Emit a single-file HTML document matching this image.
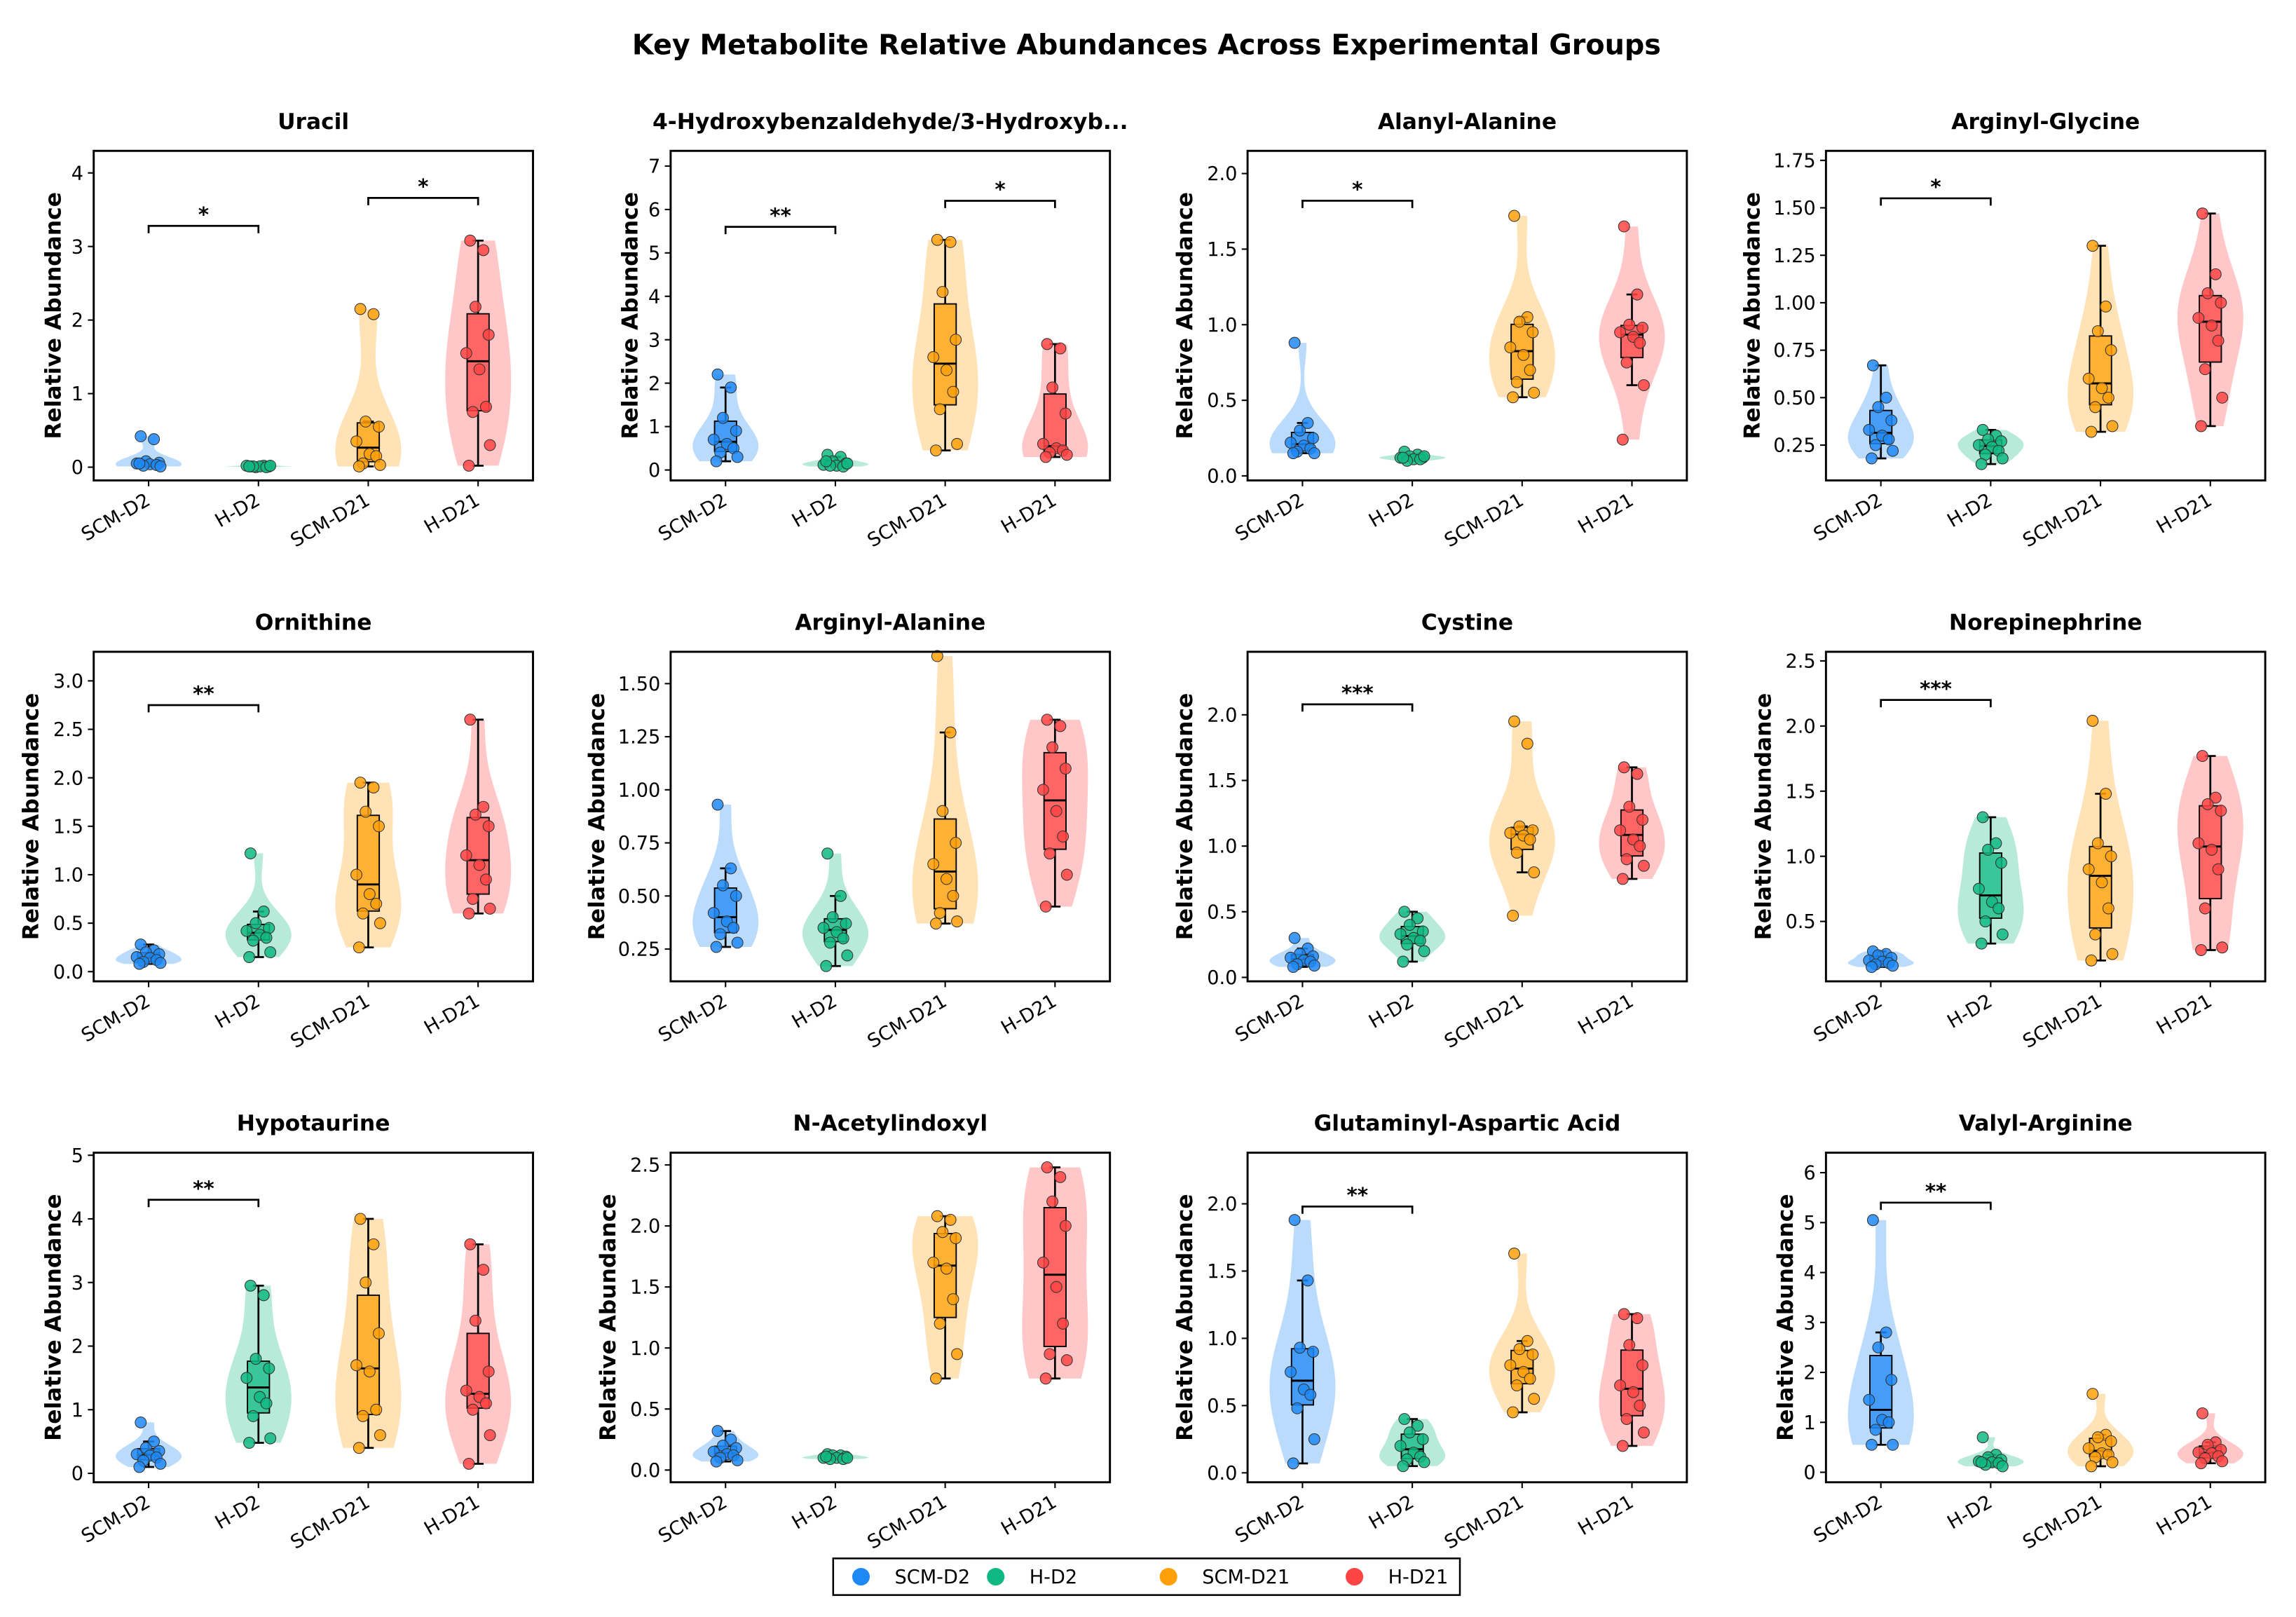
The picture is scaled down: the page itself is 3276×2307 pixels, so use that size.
<!DOCTYPE html>
<html><head><meta charset="utf-8"><style>
html,body{margin:0;padding:0;background:#fff;}
svg{display:block;font-family:"DejaVu Sans","Liberation Sans",sans-serif;}
</style></head><body>
<svg id="fig" width="3276" height="2307" viewBox="0 0 1568 1104" preserveAspectRatio="none" xmlns="http://www.w3.org/2000/svg">
<rect x="0" y="0" width="1568" height="1104" fill="#fff"/>
<text x="783" y="37" text-anchor="middle" font-size="19" font-weight="bold">Key Metabolite Relative Abundances Across Experimental Groups</text>
<g id="panels"></g>
<g>
<rect x="569" y="1064" width="428" height="25" fill="#fff" stroke="#000" stroke-width="1.2"/>
<circle cx="588" cy="1076.5" r="6" fill="#1e88f5"/><text x="611" y="1081" font-size="13">SCM-D2</text>
<circle cx="680" cy="1076.5" r="6" fill="#10b981"/><text x="703" y="1081" font-size="13">H-D2</text>
<circle cx="798" cy="1076.5" r="6" fill="#ffa00a"/><text x="821" y="1081" font-size="13">SCM-D21</text>
<circle cx="925" cy="1076.5" r="6" fill="#ff4444"/><text x="948" y="1081" font-size="13">H-D21</text>
</g>
</svg>
<script>
const groups = ["SCM-D2","H-D2","SCM-D21","H-D21"];
const colors = ["#1e88f5","#10b981","#ffa00a","#ff4444"];
const titles = ["Uracil","4-Hydroxybenzaldehyde/3-Hydroxyb...","Alanyl-Alanine","Arginyl-Glycine","Ornithine","Arginyl-Alanine","Cystine","Norepinephrine","Hypotaurine","N-Acetylindoxyl","Glutaminyl-Aspartic Acid","Valyl-Arginine"];
const yMins = [-0.18,-0.24,-0.03,0.064,-0.1,0.098,-0.03,0.04,-0.14,-0.1,-0.07,-0.2];
const yMaxs = [4.3,7.35,2.15,1.80,3.3,1.65,2.48,2.57,5.04,2.6,2.38,6.4];
const yTicks = [
 [0,1,2,3,4],[0,1,2,3,4,5,6,7],[0,0.5,1,1.5,2],[0.25,0.5,0.75,1,1.25,1.5,1.75],
 [0,0.5,1,1.5,2,2.5,3],[0.25,0.5,0.75,1,1.25,1.5],[0,0.5,1,1.5,2],[0.5,1,1.5,2,2.5],
 [0,1,2,3,4,5],[0,0.5,1,1.5,2,2.5],[0,0.5,1,1.5,2],[0,1,2,3,4,5,6]];
const tickFmt = [0,0,1,2,1,2,1,1,0,1,1,0];
const values = [
 [[0.42,0.38,0.08,0.06,0.05,0.04,0.03,0.02,0.01,0.05],[0.01,0.02,0.0,0.01,0.02,0.01,0.0,0.01,0.02,0.01],[2.15,2.08,0.62,0.55,0.35,0.18,0.15,0.05,0.03,0.01],[3.08,2.95,2.18,1.8,1.55,1.33,0.82,0.75,0.3,0.02]],
 [[2.2,1.9,1.2,0.9,0.7,0.6,0.5,0.4,0.3,0.2],[0.35,0.3,0.2,0.15,0.12,0.1,0.08,0.1,0.15,0.2],[5.3,5.25,4.1,3.0,2.6,2.3,1.8,1.4,0.6,0.45],[2.9,2.8,1.9,1.3,0.6,0.5,0.45,0.4,0.35,0.3]],
 [[0.88,0.35,0.3,0.25,0.22,0.2,0.18,0.16,0.15,0.15],[0.16,0.14,0.13,0.12,0.12,0.11,0.11,0.1,0.13,0.12],[1.72,1.05,1.02,0.95,0.85,0.8,0.7,0.62,0.55,0.52],[1.65,1.2,1.0,0.98,0.95,0.92,0.88,0.75,0.6,0.24]],
 [[0.67,0.5,0.45,0.38,0.33,0.3,0.28,0.25,0.22,0.18],[0.33,0.3,0.28,0.27,0.25,0.24,0.22,0.2,0.18,0.15],[1.3,0.98,0.85,0.75,0.6,0.55,0.5,0.45,0.35,0.32],[1.47,1.15,1.05,1.0,0.92,0.88,0.8,0.65,0.5,0.35]],
 [[0.28,0.22,0.2,0.18,0.15,0.14,0.12,0.1,0.09,0.08],[1.22,0.62,0.5,0.45,0.42,0.38,0.35,0.32,0.2,0.15],[1.95,1.9,1.65,1.5,1.0,0.8,0.7,0.6,0.5,0.25],[2.6,1.7,1.62,1.5,1.2,1.1,0.95,0.75,0.65,0.6]],
 [[0.93,0.63,0.55,0.5,0.42,0.38,0.35,0.32,0.28,0.26],[0.7,0.5,0.4,0.37,0.35,0.33,0.3,0.28,0.22,0.17],[1.63,1.27,0.9,0.75,0.65,0.58,0.5,0.42,0.38,0.37],[1.33,1.3,1.2,1.1,1.0,0.9,0.78,0.7,0.6,0.45]],
 [[0.3,0.22,0.18,0.16,0.15,0.13,0.12,0.1,0.09,0.08],[0.5,0.45,0.4,0.35,0.33,0.3,0.28,0.25,0.2,0.12],[1.95,1.78,1.15,1.12,1.1,1.08,1.05,0.95,0.8,0.47],[1.6,1.55,1.3,1.2,1.12,1.05,1.0,0.9,0.85,0.75]],
 [[0.27,0.25,0.24,0.22,0.2,0.19,0.18,0.17,0.16,0.15],[1.3,1.1,1.05,0.95,0.75,0.65,0.6,0.5,0.4,0.33],[2.04,1.48,1.1,1.0,0.9,0.8,0.6,0.4,0.25,0.2],[1.77,1.45,1.4,1.35,1.1,1.05,0.9,0.6,0.3,0.28]],
 [[0.8,0.5,0.4,0.35,0.3,0.28,0.25,0.2,0.15,0.1],[2.95,2.8,1.8,1.65,1.5,1.2,1.1,0.9,0.55,0.48],[4.0,3.6,3.0,2.2,1.7,1.6,1.0,0.9,0.6,0.4],[3.6,3.2,2.4,1.6,1.3,1.2,1.1,1.0,0.6,0.15]],
 [[0.32,0.25,0.2,0.18,0.15,0.13,0.12,0.1,0.08,0.07],[0.13,0.12,0.12,0.11,0.1,0.1,0.09,0.09,0.1,0.11],[2.08,2.05,1.95,1.9,1.7,1.65,1.4,1.2,0.95,0.75],[2.48,2.4,2.2,2.0,1.7,1.5,1.2,0.95,0.9,0.75]],
 [[1.88,1.43,0.93,0.9,0.75,0.62,0.58,0.48,0.25,0.07],[0.4,0.35,0.3,0.25,0.2,0.15,0.12,0.1,0.08,0.05],[1.63,0.98,0.92,0.88,0.8,0.75,0.7,0.65,0.55,0.45],[1.18,1.15,0.95,0.8,0.65,0.6,0.5,0.4,0.3,0.2]],
 [[5.05,2.8,2.5,1.85,1.45,1.05,1.0,0.85,0.55,0.55],[0.7,0.35,0.3,0.25,0.22,0.2,0.18,0.15,0.12,0.2],[1.57,0.75,0.7,0.62,0.48,0.38,0.35,0.3,0.2,0.12],[1.18,0.6,0.55,0.45,0.4,0.38,0.32,0.28,0.22,0.18]]
];
const sigPanel = [0,0,1,1,2,3,4,6,7,8,10,11];
const sigFrom  = [0,2,0,2,0,0,0,0,0,0,0,0];
const sigTo    = [1,3,1,3,1,1,1,1,1,1,1,1];
const sigY     = [3.28,3.66,5.6,6.2,1.82,1.55,2.75,2.08,2.2,4.3,1.98,5.4];
const sigText  = ["*","*","**","*","*","*","**","***","***","**","**","**"];

const NS = "http://www.w3.org/2000/svg";
const root = document.getElementById("panels");
const colLeft = [64,458,852,1247], rowTop = [103,445,787], AW = 300, AH = 225;
const jit = [-0.6,0.4,-0.2,0.8,-0.9,0.1,0.6,-0.4,0.9,-0.7];
function mk(tag, attrs, parent){const e=document.createElementNS(NS,tag);for(const k in attrs)e.setAttribute(k,attrs[k]);parent.appendChild(e);return e;}
function quant(s,p){const i=(s.length-1)*p,lo=Math.floor(i),hi=Math.ceil(i);return s[lo]+(s[hi]-s[lo])*(i-lo);}

for(let p=0;p<12;p++){
  const L=colLeft[p%4], T=rowTop[Math.floor(p/4)];
  const y0=yMins[p], y1=yMaxs[p];
  const Y=v=>T+AH-(v-y0)/(y1-y0)*AH;
  const step=AW/4;
  const X=i=>L+step*(i+0.5);
  const g=mk("g",{},root);
  
  
  const t=mk("text",{x:L+AW/2,y:T-15,"text-anchor":"middle","font-size":"15","font-weight":"bold"},g);
  t.textContent=titles[p];
  
  
  let maxLen=0;
  yTicks[p].forEach(v=>{maxLen=Math.max(maxLen,v.toFixed(tickFmt[p]).length);});
  const tw=maxLen*7.6;
  const yl=mk("text",{x:0,y:0,"text-anchor":"middle","font-size":"15","font-weight":"bold",transform:`translate(${L-tw-15},${T+AH/2}) rotate(-90)`},g);
  yl.textContent="Relative Abundance";
  
  
  for(let gi=0;gi<4;gi++){
    const d=values[p][gi].slice(), s=d.slice().sort((a,b)=>a-b), n=s.length;
    const mean=s.reduce((a,b)=>a+b,0)/n;
    const sd=Math.sqrt(s.reduce((a,b)=>a+(b-mean)**2,0)/(n-1))||1e-6;
    const bw=sd*Math.pow(n,-0.2);
    const mn=s[0], mx=s[n-1], pts=[], N=50;
    let maxD=0;
    for(let k=0;k<=N;k++){const v=mn+(mx-mn)*k/N;let den=0;for(const x of s)den+=Math.exp(-0.5*((v-x)/bw)**2);pts.push([v,den]);if(den>maxD)maxD=den;}
    const hw=0.3*step, cx=X(gi);
    let path="";
    pts.forEach((q,k)=>{path+=(k?"L":"M")+(cx+q[1]/maxD*hw).toFixed(2)+","+Y(q[0]).toFixed(2);});
    for(let k=pts.length-1;k>=0;k--){path+="L"+(cx-pts[k][1]/maxD*hw).toFixed(2)+","+Y(pts[k][0]).toFixed(2);}
    const vio=mk("path",{d:path+"Z",fill:colors[gi],"fill-opacity":"0.3",stroke:"none"},g);
    
    
    const q1=quant(s,0.25),q2=quant(s,0.5),q3=quant(s,0.75),iqr=q3-q1;
    const wlo=s.find(v=>v>=q1-1.5*iqr), whi=s.slice().reverse().find(v=>v<=q3+1.5*iqr);
    const bwid=0.2*step;
    const bx=mk("g",{},g);
    
    
    mk("line",{x1:cx,x2:cx,y1:Y(whi),y2:Y(q3),stroke:"#000","stroke-width":"1.3"},bx);
    mk("line",{x1:cx,x2:cx,y1:Y(q1),y2:Y(wlo),stroke:"#000","stroke-width":"1.3"},bx);
    mk("line",{x1:cx-bwid/4,x2:cx+bwid/4,y1:Y(whi),y2:Y(whi),stroke:"#000","stroke-width":"1.3"},bx);
    mk("line",{x1:cx-bwid/4,x2:cx+bwid/4,y1:Y(wlo),y2:Y(wlo),stroke:"#000","stroke-width":"1.3"},bx);
    mk("rect",{x:cx-bwid/2,y:Y(q3),width:bwid,height:Math.max(0.5,Y(q1)-Y(q3)),fill:colors[gi],"fill-opacity":"0.75",stroke:"#000","stroke-width":"0.9"},bx);
    mk("line",{x1:cx-bwid/2,x2:cx+bwid/2,y1:Y(q2),y2:Y(q2),stroke:"#000","stroke-width":"1.4"},bx);
    d.forEach((v,k)=>{
      const c=mk("circle",{cx:cx+jit[k]*0.12*step,cy:Y(v),r:3.8,fill:colors[gi],"fill-opacity":"0.85",stroke:"#333","stroke-width":"0.5"},g);
      
      
    });
  }
  const fr=mk("rect",{x:L,y:T,width:AW,height:AH,fill:"none",stroke:"#000","stroke-width":"1.4"},g);
  
  
  yTicks[p].forEach(v=>{
    mk("line",{x1:L-4,x2:L,y1:Y(v),y2:Y(v),stroke:"#000","stroke-width":"1"},g);
    const tl=mk("text",{x:L-7,y:Y(v)+4.6,"text-anchor":"end","font-size":"13"},g);
    tl.textContent=v.toFixed(tickFmt[p]);
    
    
  });
  groups.forEach((gname,gi)=>{
    mk("line",{x1:X(gi),x2:X(gi),y1:T+AH,y2:T+AH+4,stroke:"#000","stroke-width":"1"},g);
    const xl=mk("text",{x:0,y:0,"text-anchor":"end","font-size":"13",transform:`translate(${X(gi)+2},${T+AH+16}) rotate(-30)`},g);
    xl.textContent=gname;
    
    
  });
}
for(let i=0;i<sigPanel.length;i++){
  const p=sigPanel[i];
  const L=colLeft[p%4], T=rowTop[Math.floor(p/4)];
  const Y=v=>T+AH-(v-yMins[p])/(yMaxs[p]-yMins[p])*AH;
  const X=k=>L+AW/4*(k+0.5);
  const g=mk("g",{},root);
  
  
  const y=Y(sigY[i]), xa=X(sigFrom[i]), xb=X(sigTo[i]);
  mk("path",{d:`M${xa},${y+5}L${xa},${y}L${xb},${y}L${xb},${y+5}`,fill:"none",stroke:"#000","stroke-width":"1.3"},g);
  const st=mk("text",{x:(xa+xb)/2,y:y-3,"text-anchor":"middle","font-size":"14","font-weight":"bold"},g);
  st.textContent=sigText[i];
}
</script>
</body></html>
